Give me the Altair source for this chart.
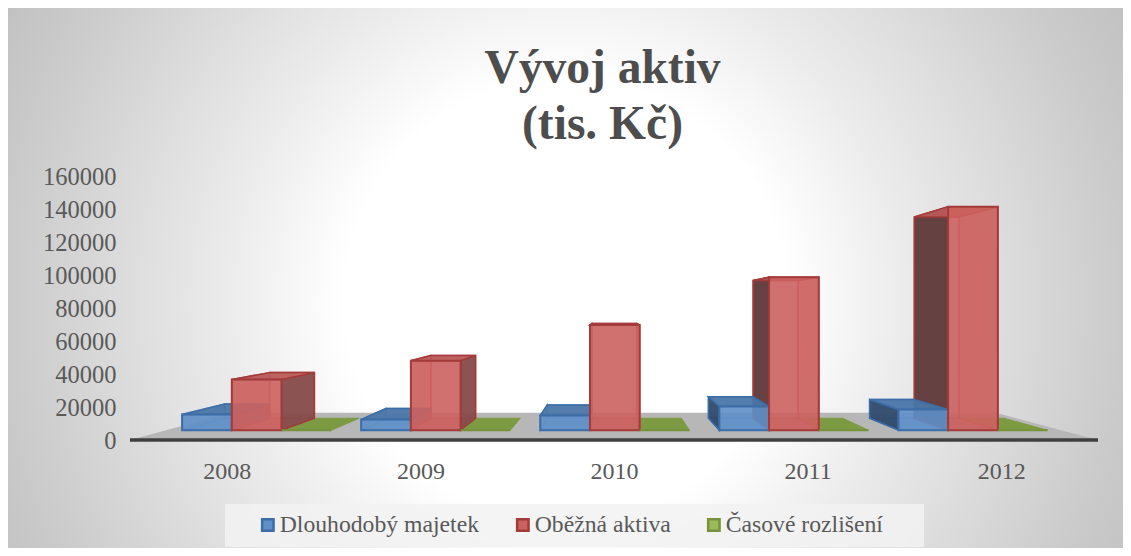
import json
import altair as alt
import pandas as pd

years = ["2008", "2009", "2010", "2011", "2012"]
series = ["Dlouhodobý majetek", "Oběžná aktiva", "Časové rozlišení"]
dlouhodoby = [10400, 7100, 9700, 15600, 13600]
obezna = [33200, 45600, 69000, 100300, 146500]
casove = [0, 0, 0, 0, 0]
y_ticks = [0, 20000, 40000, 60000, 80000, 100000, 120000, 140000, 160000]

W, H = 1115, 540
FONT = "Liberation Serif"
XDOM = [(8 - 130) / 193.6, (1123 - 130) / 193.6]
YDOM = [-(548 - 440) / 1.65 * 1000, (440 - 8) / 1.65 * 1000]
VU, VV = 2.48, 78800
F_FRONT, F_BACK, F_FLOOR = 0.925, 0.925 * 0.9, 0.79
BW, GAP = 0.2775, 0.09


def px(u, f):
    return VU + f * (u - VU)


def py(v, f):
    return VV + f * (v - VV)


STY = {
    0: dict(edge="#3c6da6", dl="#2f4a6b", dr="#4f7198", top="#4a76a8", inner="#6d97c8"),
    1: dict(edge="#a23b39", dl="#5f3838", dr="#864a4a", top="#b85a58", inner="#c45a58"),
}
front, back, side, flat_low, flat_top = [], [], [], [], []
floor = []
for f_ in (1.0, F_FLOOR):
    floor.append(dict(id="floor", y=py(0, f_), x=px(0, f_), x2=px(5, f_)))

for i, yr in enumerate(years):
    for k, vals in enumerate([dlouhodoby, obezna, casove]):
        v = vals[i]
        u0 = i + GAP + k * BW
        u1 = u0 + BW
        fid = f"{yr}-{k}"
        front.append(dict(series=series[k], x=px(u0, F_FRONT), x2=px(u1, F_FRONT),
                          y=py(0, F_FRONT), y2=py(v, F_FRONT)))
        if k == 2:
            for f_ in (F_FRONT, F_BACK):
                flat_low.append(dict(id=fid, y=py(0, f_), x=px(u0, f_), x2=px(u1, f_),
                                     fill="#7c9a42", stroke="#7c9a42", op=1.0))
            continue
        s = STY[k]
        back.append(dict(x=px(u0, F_BACK), x2=px(u1, F_BACK), y=py(0, F_BACK), y2=py(v, F_BACK), stroke=s["inner"]))
        for nm, u in (("l", u0), ("r", u1)):
            visible = (nm == "l" and u > VU) or (nm == "r" and u < VU)
            fill = (s["dl"] if nm == "l" else s["dr"]) if visible else s["inner"]
            op = 0.95 if visible else 0.25
            stroke = s["edge"] if visible else s["inner"]
            for f_ in (F_FRONT, F_BACK):
                side.append(dict(id=f"{fid}-{nm}", x=px(u, f_), y=py(0, f_), y2=py(v, f_),
                                 fill=fill, stroke=stroke, op=op))
        for f_ in (F_FRONT, F_BACK):
            flat_top.append(dict(id=fid + "-t", y=py(v, f_), x=px(u0, f_), x2=px(u1, f_),
                                 fill=s["top"], stroke=s["edge"], op=0.95))
            flat_low.append(dict(id=fid + "-b", y=py(0, f_), x=px(u0, f_), x2=px(u1, f_),
                                 fill=s["inner"], stroke=s["inner"], op=0.35))

XS = alt.Scale(domain=XDOM, nice=False, zero=False)
YS = alt.Scale(domain=YDOM, nice=False, zero=False)
X_AXIS = alt.Axis(
    values=[i + 0.5 for i in range(len(years))],
    labelExpr=json.dumps(years) + "[floor(datum.value)]",
    orient="bottom", offset=-(548 - 459), domain=False, ticks=False, grid=False,
    labelFont=FONT, labelFontSize=24, labelColor="#595959", labelPadding=0, zindex=1)
Y_AXIS = alt.Axis(
    values=y_ticks, orient="left", offset=-(116 - 8), domain=False, ticks=False, grid=False,
    format="d", labelFont=FONT, labelFontSize=24.5, labelColor="#595959", labelPadding=0,
    labelOffset=1.5, zindex=1)
X = alt.X("x:Q", scale=XS, axis=X_AXIS, title=None)
Y = alt.Y("y:Q", scale=YS, axis=Y_AXIS, title=None, stack=None)
IDENT = dict(fill=alt.Fill("fill:N", scale=None),
             stroke=alt.Stroke("stroke:N", scale=None),
             fillOpacity=alt.FillOpacity("op:Q", scale=None))

grad = alt.RadialGradient(
    gradient="radial", x1=0.5, y1=0.5, r1=0, x2=0.5, y2=0.5, r2=0.6,
    stops=[alt.GradientStop(offset=0, color="#ffffff"),
           alt.GradientStop(offset=0.33, color="#ffffff"),
           alt.GradientStop(offset=0.5, color="#ececec"),
           alt.GradientStop(offset=0.83, color="#cbcbcb"),
           alt.GradientStop(offset=1, color="#bdbdbd")],
)
bg = alt.Chart(pd.DataFrame({"a": [0]})).mark_rect(fill=grad, clip=True).encode(
    x=alt.value(0), x2=alt.value(1115), y=alt.value(-265), y2=alt.value(850))
legend_box = alt.Chart(pd.DataFrame({"a": [0]})).mark_rect(fill="#f2f2f2", fillOpacity=0.85).encode(
    x=alt.value(225 - 8), x2=alt.value(924 - 8), y=alt.value(504 - 8), y2=alt.value(547 - 8))

floor_l = alt.Chart(pd.DataFrame(floor)).mark_area(orient="horizontal", fill="#b7b7b7").encode(
    x=X, x2="x2:Q", y=Y, detail="id:N")
green_l = alt.Chart(pd.DataFrame(flat_low)).mark_area(orient="horizontal", strokeWidth=1).encode(
    x=X, x2="x2:Q", y=Y, detail="id:N", **IDENT)
back_l = alt.Chart(pd.DataFrame(back)).mark_rect(fillOpacity=0, strokeWidth=1.5).encode(
    x=X, x2="x2:Q", y=Y, y2="y2:Q", stroke=alt.Stroke("stroke:N", scale=None))
side_l = alt.Chart(pd.DataFrame(side)).mark_area(orient="vertical", strokeWidth=1.5).encode(
    x=X, y=Y, y2="y2:Q", detail="id:N", **IDENT)
top_l = alt.Chart(pd.DataFrame(flat_top)).mark_area(orient="horizontal", strokeWidth=1.5).encode(
    x=X, x2="x2:Q", y=Y, detail="id:N", **IDENT)

legend = alt.Legend(
    title=None, orient="none", legendX=248, legendY=505, direction="horizontal", columns=3,
    symbolType="square", symbolSize=130, symbolStrokeWidth=2.5, symbolOpacity=1,
    labelFont=FONT, labelFontSize=23.7, labelColor="#595959", labelOffset=0, labelLimit=300,
    padding=0, columnPadding=31, symbolOffset=0, labelBaseline="middle", rowPadding=0,
)
front_l = alt.Chart(pd.DataFrame(front)).mark_rect(fillOpacity=0.9, strokeWidth=2).encode(
    x=X, x2="x2:Q", y=Y, y2="y2:Q",
    fill=alt.Fill("series:N", scale=alt.Scale(domain=series, range=["#5f8fc8", "#cc625f", "#9bbb59"]),
                  legend=legend, sort=series),
    stroke=alt.Stroke("series:N", scale=alt.Scale(domain=series, range=["#3c6da6", "#a23b39", "#76923c"]),
                      legend=legend, sort=series),
    order=alt.Order("series:N", sort="ascending"),
)

axis_df = pd.DataFrame({"x": [0.0], "x2": [5.0], "y": [0.0]})
base = alt.Chart(axis_df).mark_rule(color="#3f3f3f", strokeWidth=3.5).encode(x=X, x2="x2:Q", y=Y)

title = alt.TitleParams(
    text=["Vývoj aktiv", "(tis. Kč)"], font=FONT, fontSize=47.5, fontWeight="bold", color="#4d4d4d",
    anchor="middle", dx=37, offset=-140, lineHeight=56,
)

chart = alt.layer(bg, legend_box, floor_l, green_l, back_l, side_l, top_l, front_l, base).resolve_scale(
    x="shared", y="shared"
).properties(width=W, height=H, title=title, padding=0, background="white").configure_view(stroke=None)

chart.save("out.html", embed_options={"renderer": "svg", "actions": False})
